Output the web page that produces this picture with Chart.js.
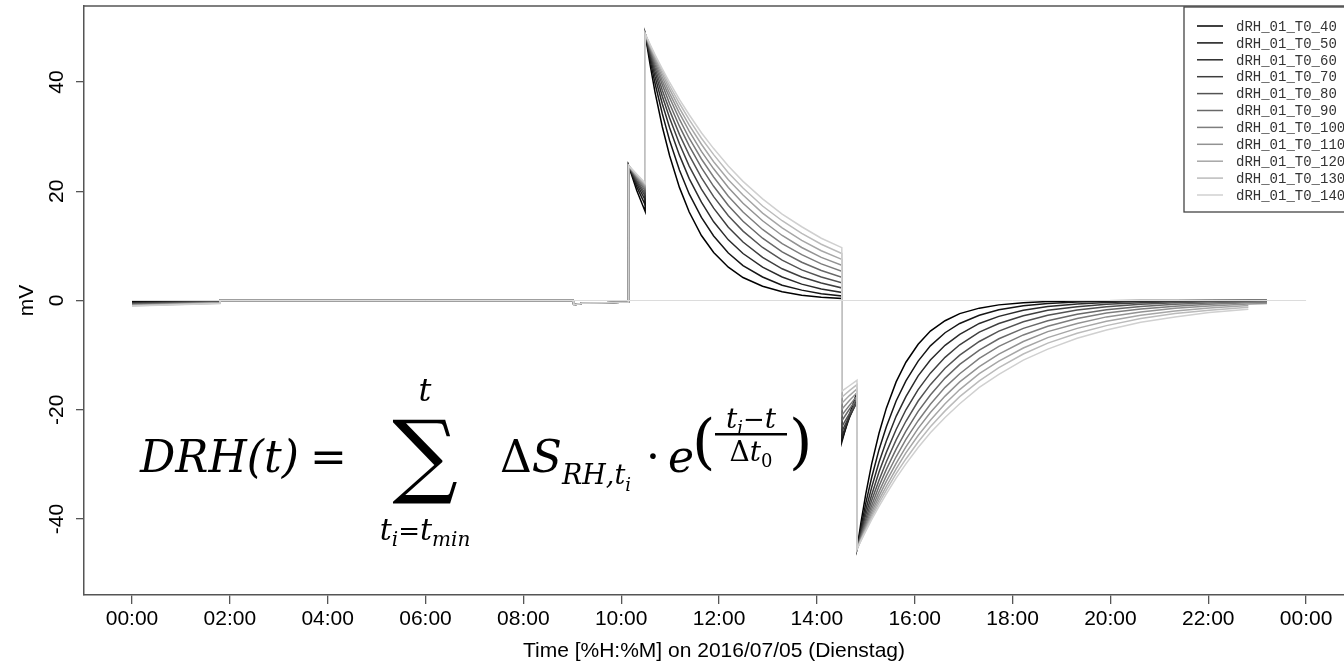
<!DOCTYPE html>
<html>
<head>
<meta charset="utf-8">
<title>dRH_01 T0 series</title>
<script src="https://cdn.jsdelivr.net/npm/chart.js@4.4.1/dist/chart.umd.min.js"></script>
<style>
  html, body { margin: 0; padding: 0; background: #fff; overflow: hidden; }
  canvas { display: block; }
</style>
</head>
<body>
<canvas id="drhChart" width="1344" height="668"></canvas>
<script>
// time axis in hours after 2016/07/05 00:00 (double entries = steps)
const hours = [
  0, 1.8, 1.8, 9.02, 9.03, 9.2, 10.15, 10.15, 10.32, 10.49,
  10.49, 10.59, 10.69, 10.84, 10.99, 11.19, 11.39, 11.64, 11.89, 12.19,
  12.49, 12.89, 13.29, 13.69, 14.09, 14.51, 14.51, 14.665, 14.82, 14.82,
  14.90, 15.00, 15.12, 15.27, 15.42, 15.62, 15.82, 16.07, 16.32, 16.62,
  16.92, 17.32, 17.72, 18.22, 18.72, 19.32, 19.92, 20.62, 21.32, 22.02,
  22.82, 23.2
];

// mV
const t0_40 = [
  -0.2, -0.05, 0, 0, -0.8, -0.5, -0.3, 24.7, 20.1, 16.3,
  48.8, 43.2, 38.2, 31.8, 26.5, 20.7, 16.2, 11.9, 8.8, 6.1,
  4.2, 2.6, 1.6, 0.97, 0.59, 0.36, -25.9, -20.9, -16.8, -45.5,
  -40.7, -35.4, -29.9, -24.3, -19.7, -14.9, -11.3, -8.0, -5.6, -3.7,
  -2.4, -1.4, -0.8, -0.4, -0.2, -0.09, -0.04, -0.01, 0, 0,
  0, 0
];
const t0_50 = [
  -0.3, -0.1, 0, 0, -0.8, -0.5, -0.3, 24.7, 20.8, 17.5,
  48.8, 44.1, 39.8, 34.2, 29.3, 23.9, 19.5, 15.2, 11.8, 8.7,
  6.4, 4.3, 2.8, 1.9, 1.25, 0.82, -25.5, -21.4, -18.0, -45.5,
  -41.6, -37.1, -32.4, -27.3, -23.1, -18.4, -14.7, -11.1, -8.3, -5.9,
  -4.2, -2.7, -1.7, -0.97, -0.55, -0.28, -0.14, -0.06, -0.03, -0.01,
  0, 0
];
const t0_60 = [
  -0.4, -0.15, 0, 0, -0.8, -0.5, -0.3, 24.7, 21.3, 18.4,
  48.8, 44.7, 41.0, 36.0, 31.6, 26.6, 22.3, 18.0, 14.4, 11.1,
  8.6, 6.1, 4.3, 3.0, 2.1, 1.48, -24.8, -21.4, -18.5, -45.5,
  -42.2, -38.3, -34.2, -29.6, -25.7, -21.2, -17.6, -13.8, -10.9, -8.2,
  -6.2, -4.2, -2.9, -1.8, -1.1, -0.63, -0.35, -0.18, -0.09, -0.05,
  -0.02, -0.02
];
const t0_70 = [
  -0.5, -0.2, 0, 0, -0.8, -0.5, -0.3, 24.7, 21.7, 19.1,
  48.8, 45.2, 41.9, 37.4, 33.4, 28.7, 24.6, 20.4, 16.9, 13.4,
  10.7, 7.9, 5.8, 4.3, 3.2, 2.30, -24.0, -21.1, -18.6, -45.5,
  -42.6, -39.2, -35.6, -31.4, -27.8, -23.6, -20.0, -16.3, -13.3, -10.4,
  -8.1, -5.8, -4.2, -2.8, -1.8, -1.13, -0.69, -0.39, -0.22, -0.12,
  -0.06, -0.05
];
const t0_80 = [
  -0.6, -0.25, 0, 0, -0.8, -0.5, -0.3, 24.7, 22.0, 19.6,
  48.8, 45.6, 42.6, 38.5, 34.8, 30.4, 26.6, 22.5, 19.0, 15.5,
  12.7, 9.7, 7.4, 5.6, 4.3, 3.25, -23.1, -20.7, -18.5, -45.5,
  -42.9, -40.0, -36.6, -32.9, -29.5, -25.5, -22.1, -18.4, -15.4, -12.4,
  -10.0, -7.5, -5.6, -3.9, -2.7, -1.76, -1.14, -0.69, -0.41, -0.25,
  -0.14, -0.11
];
const t0_90 = [
  -0.7, -0.3, 0, 0, -0.8, -0.5, -0.3, 24.7, 22.3, 20.1,
  48.8, 45.9, 43.2, 39.5, 36.0, 31.9, 28.3, 24.3, 20.9, 17.4,
  14.5, 11.4, 8.9, 7.0, 5.5, 4.27, -22.0, -19.9, -18.0, -45.5,
  -43.2, -40.5, -37.5, -34.0, -30.9, -27.2, -23.9, -20.3, -17.3, -14.2,
  -11.7, -9.1, -7.0, -5.1, -3.7, -2.5, -1.7, -1.08, -0.69, -0.44,
  -0.26, -0.20
];
const t0_100 = [
  -0.8, -0.35, 0, 0, -0.8, -0.5, -0.3, 24.7, 22.5, 20.5,
  48.8, 46.2, 43.7, 40.2, 37.1, 33.2, 29.7, 25.9, 22.6, 19.1,
  16.2, 13.0, 10.4, 8.4, 6.7, 5.34, -21.0, -19.2, -17.5, -45.5,
  -43.4, -41.0, -38.2, -35.0, -32.1, -28.6, -25.4, -22.0, -19.0, -15.9,
  -13.4, -10.6, -8.4, -6.3, -4.7, -3.3, -2.3, -1.55, -1.03, -0.69,
  -0.43, -0.34
];
const t0_110 = [
  -0.85, -0.4, 0, 0, -0.8, -0.5, -0.3, 24.7, 22.7, 20.8,
  48.8, 46.4, 44.1, 40.9, 37.9, 34.3, 31.0, 27.3, 24.1, 20.7,
  17.8, 14.6, 11.9, 9.7, 7.9, 6.43, -19.9, -18.3, -16.9, -45.5,
  -43.6, -41.4, -38.8, -35.8, -33.1, -29.8, -26.8, -23.4, -20.5, -17.5,
  -14.9, -12.1, -9.8, -7.5, -5.7, -4.2, -3.0, -2.1, -1.44, -1.0,
  -0.65, -0.53
];
const t0_120 = [
  -0.9, -0.45, 0, 0, -0.8, -0.5, -0.3, 24.7, 22.8, 21.1,
  48.8, 46.6, 44.5, 41.5, 38.7, 35.2, 32.1, 28.6, 25.4, 22.1,
  19.3, 16.0, 13.3, 11.0, 9.1, 7.52, -18.8, -17.4, -16.2, -45.5,
  -43.8, -41.7, -39.3, -36.5, -34.0, -30.8, -27.9, -24.7, -21.9, -18.9,
  -16.3, -13.4, -11.1, -8.7, -6.8, -5.1, -3.8, -2.7, -1.9, -1.36,
  -0.92, null
];
const t0_130 = [
  -0.95, -0.5, 0, 0, -0.8, -0.5, -0.3, 24.7, 23.0, 21.3,
  48.8, 46.7, 44.8, 42.0, 39.3, 36.1, 33.1, 29.7, 26.7, 23.4,
  20.6, 17.3, 14.6, 12.3, 10.3, 8.61, -17.7, -16.5, -15.4, -45.5,
  -43.9, -42.0, -39.7, -37.1, -34.7, -31.7, -29.0, -25.9, -23.1, -20.2,
  -17.6, -14.7, -12.3, -9.8, -7.8, -6.0, -4.6, -3.3, -2.4, -1.8,
  -1.23, null
];
const t0_140 = [
  -1.0, -0.55, 0, 0, -0.8, -0.5, -0.3, 24.7, 23.1, 21.5,
  48.8, 46.9, 45.0, 42.4, 39.9, 36.8, 34.0, 30.7, 27.8, 24.6,
  21.8, 18.6, 15.8, 13.5, 11.4, 9.67, -16.6, -15.6, -14.6, -45.5,
  -44.0, -42.2, -40.1, -37.7, -35.4, -32.5, -29.9, -26.9, -24.2, -21.4,
  -18.9, -15.9, -13.5, -10.9, -8.9, -6.9, -5.4, -4.0, -3.0, -2.2,
  -1.59, null
];

const seriesNames = ['dRH_01_T0_40', 'dRH_01_T0_50', 'dRH_01_T0_60', 'dRH_01_T0_70',
  'dRH_01_T0_80', 'dRH_01_T0_90', 'dRH_01_T0_100', 'dRH_01_T0_110',
  'dRH_01_T0_120', 'dRH_01_T0_130', 'dRH_01_T0_140'];
const seriesValues = [t0_40, t0_50, t0_60, t0_70, t0_80, t0_90, t0_100, t0_110, t0_120, t0_130, t0_140];

const zeroHours = [0, 24];
const zeroValues = [0, 0];

const xTickHours = [0, 2, 4, 6, 8, 10, 12, 14, 16, 18, 20, 22, 24];
const xTickLabels = ['00:00', '02:00', '04:00', '06:00', '08:00', '10:00', '12:00',
  '14:00', '16:00', '18:00', '20:00', '22:00', '00:00'];
const yTickValues = [-40, -20, 0, 20, 40];
const yTickLabels = ['-40', '-20', '0', '20', '40'];

const xTitle = 'Time [%H:%M] on 2016/07/05 (Dienstag)';
const yTitle = 'mV';

// grey ramp, black -> light grey
const greys = [0, 21, 42, 62, 83, 104, 125, 146, 166, 187, 208];
const sansFont = '"Liberation Sans", Arial, sans-serif';
const axisColor = '#555';

const datasets = seriesValues.map((vals, i) => ({
  label: seriesNames[i],
  data: hours.map((h, j) => ({x: h, y: vals[j]})),
  borderColor: `rgb(${greys[i]},${greys[i]},${greys[i]})`,
  borderWidth: 1.5,
  pointRadius: 0,
  tension: 0,
  order: seriesValues.length - i + 1   // lighter ones painted over darker ones
}));
datasets.push({
  label: '',
  data: zeroHours.map((h, j) => ({x: h, y: zeroValues[j]})),
  borderColor: '#dcdcdc',
  borderWidth: 1,
  pointRadius: 0,
  order: 0
});

// top edge of the box (left/bottom come from the axis borders)
const boxPlugin = {
  id: 'box',
  afterDraw(chart) {
    const {ctx, chartArea} = chart;
    ctx.save();
    ctx.strokeStyle = axisColor;
    ctx.lineWidth = 1.5;
    ctx.beginPath();
    ctx.moveTo(chartArea.left, chartArea.top);
    ctx.lineTo(chartArea.right, chartArea.top);
    ctx.stroke();
    ctx.restore();
  }
};

// y tick labels and title, rotated like base R
const yLabelPlugin = {
  id: 'yLabels',
  afterDraw(chart) {
    const {ctx, chartArea} = chart;
    const y = chart.scales.y;
    ctx.save();
    ctx.fillStyle = '#000';
    ctx.textAlign = 'center';
    ctx.textBaseline = 'alphabetic';
    ctx.font = '21px ' + sansFont;
    yTickValues.forEach((v, i) => {
      ctx.save();
      ctx.translate(63, y.getPixelForValue(v));
      ctx.rotate(-Math.PI / 2);
      ctx.fillText(yTickLabels[i], 0, 0);
      ctx.restore();
    });
    ctx.translate(33, (chartArea.top + chartArea.bottom) / 2);
    ctx.rotate(-Math.PI / 2);
    ctx.fillText(yTitle, 0, 0);
    ctx.restore();
  }
};

const legendPlugin = {
  id: 'boxLegend',
  afterDraw(chart) {
    const ctx = chart.ctx;
    const left = 1184, top = 7, bottom = 212, rowH = 16.9;
    ctx.save();
    ctx.fillStyle = '#fff';
    ctx.fillRect(left, top, chart.width - left, bottom - top);
    ctx.strokeStyle = '#444';
    ctx.lineWidth = 1.3;
    ctx.strokeRect(left, top, chart.width - left + 10, bottom - top);
    ctx.font = '14px "Liberation Mono", "Courier New", monospace';
    ctx.textBaseline = 'middle';
    ctx.textAlign = 'left';
    seriesNames.forEach((name, i) => {
      const yy = 26 + i * rowH;
      ctx.strokeStyle = chart.data.datasets[i].borderColor;
      ctx.lineWidth = 1.5;
      ctx.beginPath();
      ctx.moveTo(1197, yy);
      ctx.lineTo(1223, yy);
      ctx.stroke();
      ctx.fillStyle = '#333';
      ctx.fillText(name, 1236, yy + 1);
    });
    ctx.restore();
  }
};

// DRH(t) = sum_{t_i=t_min}^{t} dS_{RH,t_i} * e^((t_i - t)/dt_0)
const formulaPlugin = {
  id: 'formula',
  afterDraw(chart) {
    const ctx = chart.ctx;
    const it = s => `italic ${s}px "DejaVu Serif", serif`;
    const up = s => `${s}px "DejaVu Serif", serif`;
    const run = (parts, x, y) => {
      parts.forEach(([txt, font, dy]) => {
        ctx.font = font;
        ctx.fillText(txt, x, y + (dy || 0));
        x += ctx.measureText(txt).width;
      });
      return x;
    };
    const width = parts => parts.reduce((w, [txt, font]) => {
      ctx.font = font;
      return w + ctx.measureText(txt).width;
    }, 0);

    ctx.save();
    ctx.fillStyle = '#000';
    ctx.textAlign = 'left';
    ctx.textBaseline = 'alphabetic';
    const base = 472;

    run([['DRH(t)', it(44)]], 140, base);
    run([['=', up(44)]], 310, base);

    // big sigma with limits
    ctx.font = up(92);
    ctx.textAlign = 'center';
    ctx.textBaseline = 'middle';
    ctx.fillText('\u2211', 425, 462);
    ctx.textAlign = 'left';
    ctx.textBaseline = 'alphabetic';
    const top = [['t', it(32)]];
    run(top, 425 - width(top) / 2, 401);
    const low = [['t', it(30)], ['i', it(20), 6], ['=', up(26)], ['t', it(30)], ['min', it(20), 6]];
    run(low, 425 - width(low) / 2, 540);

    run([['\u0394', up(44)], ['S', it(44)], ['RH,t', it(27), 12], ['i', it(18), 19]], 500, base);
    run([['\u00b7', up(44)]], 646, base);
    run([['e', it(44)]], 668, base);

    // exponent
    run([['(', up(60)]], 692, 462);
    const num = [['t', it(28)], ['i', it(18), 6], ['\u2212', up(26)], ['t', it(28)]];
    const den = [['\u0394', up(28)], ['t', it(28)], ['0', up(18), 6]];
    const cx = 751;
    run(num, cx - width(num) / 2, 428);
    ctx.fillRect(cx - 36, 433, 72, 2.5);
    run(den, cx - width(den) / 2, 461);
    run([[')', up(60)]], 789, 462);
    ctx.restore();
  }
};

new Chart(document.getElementById('drhChart'), {
  type: 'line',
  data: {datasets: datasets},
  options: {
    responsive: false,
    animation: false,
    events: [],
    layout: {padding: {top: 6, right: 0, left: 0, bottom: 0}},
    plugins: {legend: {display: false}, tooltip: {enabled: false}},
    scales: {
      x: {
        type: 'linear',
        min: -0.981,
        max: 24.775,
        afterBuildTicks: s => { s.ticks = xTickHours.map(v => ({value: v})); },
        afterFit: s => { s.height = 73; },
        ticks: {
          autoSkip: false, maxRotation: 0, padding: 3, color: '#000',
          font: {family: sansFont, size: 21},
          callback: (v, i) => xTickLabels[i]
        },
        grid: {drawOnChartArea: false, drawTicks: true, tickLength: 9, color: axisColor, lineWidth: 1.3},
        border: {display: true, color: axisColor, width: 1.5},
        title: {display: true, text: xTitle, color: '#000', font: {family: sansFont, size: 21}, padding: {top: 0, bottom: 4}}
      },
      y: {
        type: 'linear',
        min: -53.9,
        max: 53.9,
        afterBuildTicks: s => { s.ticks = yTickValues.map(v => ({value: v})); },
        afterFit: s => { s.width = 84; },
        ticks: {display: false},
        grid: {drawOnChartArea: false, drawTicks: true, tickLength: 8, color: axisColor, lineWidth: 1.3},
        border: {display: true, color: axisColor, width: 1.5}
      }
    }
  },
  plugins: [boxPlugin, yLabelPlugin, legendPlugin, formulaPlugin]
});
</script>
</body>
</html>
